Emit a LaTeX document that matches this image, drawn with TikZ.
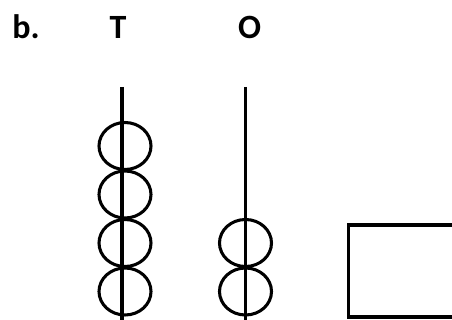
\documentclass[tikz,border=0pt]{standalone}
\usepackage{fontspec}
\setmainfont{Carlito}
\usetikzlibrary{positioning}

\begin{document}
\begin{tikzpicture}[
    x=0.75pt, y=-0.75pt,
    label/.style={font=\fontsize{25.5}{30}\selectfont\bfseries, anchor=base, inner sep=0pt},
    rod/.style={draw=black, line width=2.3pt},
    bead/.style={draw=black, line width=2.3pt},
    answer/.style={draw=black, line width=2.7pt}
]
\useasboundingbox (0,0) rectangle (452,320);
\clip (0,0) rectangle (452,320);

% Headings
\node[label] (part) at (26, 39) {b.};
\node[label] (tens) at (118, 39) {T};
\node[label] (ones) at (249.5, 39) {O};

% Tens rod with four beads
\coordinate (tenstop) at (122, 87);
\coordinate (tensbot) at (122, 322);
\draw[bead] (125, 146) ellipse (26 and 23.5);
\draw[bead] (125, 194.5) ellipse (26 and 23.5);
\draw[bead] (125, 243) ellipse (26 and 23.5);
\draw[bead] (125, 291.5) ellipse (26 and 23.5);
\draw[rod] (tenstop) -- (tensbot);

% Ones rod with two beads
\coordinate (onestop) at (245.5, 87);
\coordinate (onesbot) at (245.5, 322);
\draw[bead] (245.5, 243) ellipse (26 and 23.5);
\draw[bead] (245.5, 291.5) ellipse (26 and 23.5);
\draw[rod] (onestop) -- (onesbot);

% Answer box
\draw[answer] (348.5, 225) rectangle (470, 317);

\end{tikzpicture}
\end{document}
